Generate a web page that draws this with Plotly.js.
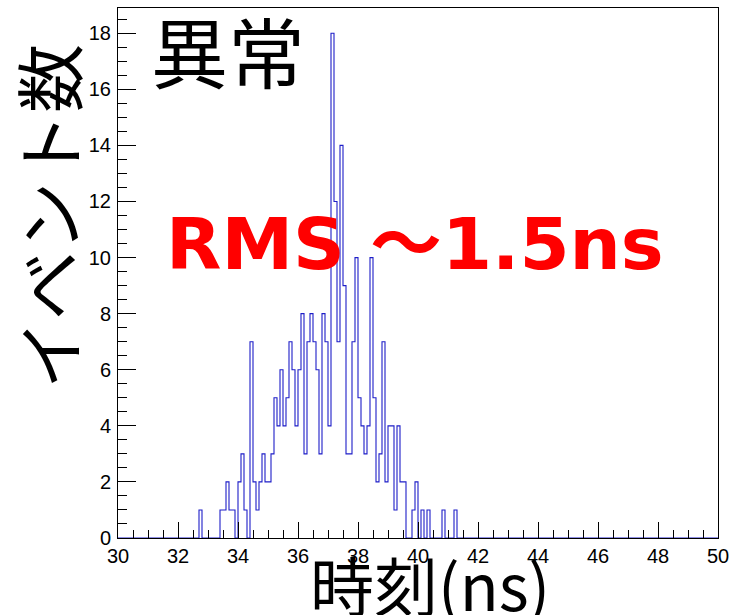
<!DOCTYPE html>
<html>
<head>
<meta charset="utf-8">
<script src="https://cdn.plot.ly/plotly-3.0.1.min.js"></script>
<style>
  html, body { margin: 0; padding: 0; background: #ffffff; }
  #chart { width: 731px; height: 615px; }
</style>
</head>
<body>
<div id="chart"></div>
<script>
// ---- data ----
const xMin = 30;
const xMax = 50;
const binWidth = 0.1;
const firstBin = 32.7;           // low edge of the first listed bin
const counts = [
  1, 0, 0, 0, 0, 0, 0,           // 32.7 - 33.3
  1, 1, 2, 1, 1, 0,              // 33.4 - 33.9
  2, 3, 1, 0, 7, 2, 1, 2, 3, 2,  // 34.0 - 34.9
  2, 3, 5, 4, 6, 4, 5, 7, 6, 4,  // 35.0 - 35.9
  6, 8, 3, 7, 8, 7, 6, 3, 8, 7,  // 36.0 - 36.9
  4, 18, 12, 7, 14, 9, 3, 3, 7, 10, // 37.0 - 37.9
  5, 4, 3, 4, 10, 5, 2, 3, 7, 2, // 38.0 - 38.9
  4, 4, 1, 4, 2, 2, 0, 0, 1, 2,  // 39.0 - 39.9
  0, 1, 0, 1, 0, 0, 0, 0, 1, 0,  // 40.0 - 40.9
  0, 0, 1                        // 41.0 - 41.2
];
const xTickVals = [30, 32, 34, 36, 38, 40, 42, 44, 46, 48, 50];
const yTickVals = [0, 2, 4, 6, 8, 10, 12, 14, 16, 18];
const xTitle = "時刻(ns)";
const yTitle = "イベント数";
const labelTop = "異常";
const labelRms = "RMS ～1.5ns";

// ---- build the full histogram outline over [xMin, xMax] ----
const nBins = Math.round((xMax - xMin) / binWidth);
const offset = Math.round((firstBin - xMin) / binWidth);
const full = new Array(nBins).fill(0);
counts.forEach((c, i) => { full[offset + i] = c; });
const xs = [], ys = [];
for (let i = 0; i < nBins; i++) {
  xs.push(+(xMin + i * binWidth).toFixed(4));
  ys.push(full[i]);
}
xs.push(xMax); ys.push(full[nBins - 1]);

const trace = {
  x: xs, y: ys, type: 'scatter', mode: 'lines',
  line: { color: '#1e1ec8', width: 1.1, shape: 'hv' },
  hoverinfo: 'skip', showlegend: false
};

const tickFont = { family: 'Liberation Sans, Arial, sans-serif', size: 20, color: '#000' };

// pixel helpers for placing free text (plot area: x 118..718, y 8..538)
const px = v => (v - 118) / 600;
const py = v => (538 - v) / 530;

const layout = {
  width: 731, height: 615,
  margin: { l: 118, r: 13, t: 8, b: 77 },
  paper_bgcolor: '#fff', plot_bgcolor: '#fff',
  showlegend: false,
  xaxis: {
    range: [xMin, xMax], tickmode: 'array', tickvals: xTickVals,
    ticks: 'inside', ticklen: 16, tickwidth: 1, tickcolor: '#000',
    minor: { dtick: 0.5, ticks: 'inside', ticklen: 8, tickwidth: 1, tickcolor: '#000', showgrid: false },
    showgrid: false, zeroline: false, showline: true, linecolor: '#000', linewidth: 1, mirror: true,
    tickfont: tickFont, ticklabelstandoff: 0
  },
  yaxis: {
    range: [0, 18.9], tickmode: 'array', tickvals: yTickVals,
    ticks: 'inside', ticklen: 18, tickwidth: 1, tickcolor: '#000',
    minor: { dtick: 0.5, ticks: 'inside', ticklen: 9, tickwidth: 1, tickcolor: '#000', showgrid: false },
    showgrid: false, zeroline: false, showline: true, linecolor: '#000', linewidth: 1, mirror: true,
    tickfont: tickFont, ticklabelstandoff: 2
  },
  annotations: [
    { text: xTitle, xref: 'paper', yref: 'paper', x: px(430), y: py(583),
      xanchor: 'center', yanchor: 'middle', showarrow: false,
      font: { family: 'Noto Sans CJK JP', size: 64, color: '#000' } },
    { text: yTitle, xref: 'paper', yref: 'paper', x: px(47), y: py(217),
      xanchor: 'center', yanchor: 'middle', showarrow: false, textangle: -90,
      font: { family: 'Noto Sans CJK JP', size: 69, color: '#000' } },
    { text: labelTop, xref: 'paper', yref: 'paper', x: px(228), y: py(50),
      xanchor: 'center', yanchor: 'middle', showarrow: false,
      font: { family: 'Noto Sans CJK JP', size: 77, color: '#000' } },
    { text: '<b>' + labelRms + '</b>', xref: 'paper', yref: 'paper', x: px(415), y: py(244),
      xanchor: 'center', yanchor: 'middle', showarrow: false,
      font: { family: 'DejaVu Sans, Noto Sans CJK JP', size: 72, color: '#ff0000' } }
  ]
};

Plotly.newPlot('chart', [trace], layout, { displayModeBar: false, staticPlot: true });
</script>
</body>
</html>
